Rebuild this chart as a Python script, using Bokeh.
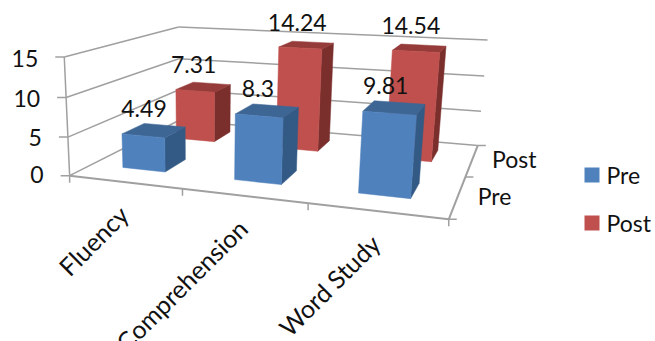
import numpy as np
from bokeh.plotting import figure
from bokeh.core.properties import value
from bokeh.embed import file_html
from bokeh.resources import INLINE

categories = ["Fluency", "Comprehension", "Word Study"]
series_names = ["Pre", "Post"]
pre_values = [4.49, 8.3, 9.81]
post_values = [7.31, 14.24, 14.54]
value_ticks = [0, 5, 10, 15]

FONT = "Lato"
AXIS = "#A0A0A0"
FACES = {
    "Pre": {"front": "#4F81BD", "top": "#3E6695", "side": "#335A85"},
    "Post": {"front": "#C0504D", "top": "#953B39", "side": "#7A2F2D"},
}
BAR_X = (0.29, 0.68)
BAR_Z = (0.34, 0.72)

# Camera fit: (category, depth, value) -> screen position of the chart's box.
anchors = [
    ((0, 0, 0), (71, 173)), ((1, 0, 0), (182, 188)), ((2, 0, 0), (307, 204)), ((3, 0, 0), (448, 221)),
    ((3, 1, 0), (466, 175)), ((3, 2, 0), (477, 143)), ((0, 2, 0), (177, 123)),
    ((0, 0, 5), (68, 135)), ((0, 0, 10), (65, 97)), ((0, 0, 15), (62, 58)),
    ((0, 2, 5), (178, 90)), ((0, 2, 10), (179, 57)), ((0, 2, 15), (180, 25)),
    ((3, 2, 5), (481, 110)), ((3, 2, 10), (484, 76)), ((3, 2, 15), (486, 41)),
]
rows = []
for (x, z, v), (u, w) in anchors:
    h = [x, z, v, 1]
    rows.append(h + [0, 0, 0, 0] + [-u * c for c in h])
    rows.append([0, 0, 0, 0] + h + [-w * c for c in h])
CAMERA = np.linalg.svd(np.array(rows, float))[2][-1].reshape(3, 4)


def project(x, z, v):
    q = CAMERA @ np.array([x, z, v, 1.0])
    return q[0] / q[2], q[1] / q[2]


p = figure(width=655, height=341, x_range=(0, 655), y_range=(341, 0),
           output_backend="svg", toolbar_location=None, min_border=0)
p.axis.visible = False
p.grid.visible = False
p.outline_line_color = None
p.background_fill_color = "white"


def line(a, b, width=1.5):
    ax, ay = a
    bx, by = b
    p.line([ax, bx], [ay, by], line_color=AXIS, line_width=width)


# Box frame: walls, floor and tick marks
for v in value_ticks:
    a, b, c = project(0, 0, v), project(0, 2, v), project(3, 2, v)
    line(a, b)
    line(b, c)
    line(a, (a[0] - 9, a[1]))
line(project(0, 0, 0), project(0, 0, 15))
line(project(0, 0, 0), project(3, 0, 0), 2)
line(project(3, 0, 0), project(3, 2, 0), 2)
for i in range(4):
    a = project(i, 0, 0)
    line(a, (a[0], a[1] + 7))
for k in range(3):
    a = project(3, k, 0)
    line(a, (a[0] + 8, a[1]))

# Bars, far row first so that nearer ones cover them
for depth, name, vals in ((1, "Post", post_values), (0, "Pre", pre_values)):
    for i, val in enumerate(vals):
        x0, x1 = i + BAR_X[0], i + BAR_X[1]
        z0, z1 = depth + BAR_Z[0], depth + BAR_Z[1]
        quads = {
            "side": [(x1, z0, 0), (x1, z1, 0), (x1, z1, val), (x1, z0, val)],
            "top": [(x0, z0, val), (x1, z0, val), (x1, z1, val), (x0, z1, val)],
            "front": [(x0, z0, 0), (x1, z0, 0), (x1, z0, val), (x0, z0, val)],
        }
        for face, pts in quads.items():
            xy = [project(*q) for q in pts]
            p.patch([c[0] for c in xy], [c[1] for c in xy],
                    fill_color=FACES[name][face], line_color=FACES[name][face], line_width=0.5)


def label(x, y, s, size, align="center", angle=0):
    p.text([x], [y], text=[s], text_font=value(FONT), text_font_size=size, text_color="#111111",
           text_align=align, text_baseline="middle", angle=angle)


# Value labels sit just above each bar's top face
for depth, vals in ((1, post_values), (0, pre_values)):
    for i, val in enumerate(vals):
        x, y = project(i + 0.5, depth + 0.5, val)
        label(x - 10, y - 23, f"{val:g}", "23px")

# Axis numbers are spaced a little tighter than the ticks they belong to
for v in value_ticks:
    x, y = project(0, 0, v)
    label(x - 26, y - 1 + v * 0.2, str(v), "23px", "right")

for i, cat in enumerate(categories):
    x, y = project(i + 0.5, 0, 0)
    label(x - 1, y + 28, cat, "25px", "right", np.pi / 4)

for k, name in enumerate(series_names):
    x, y = project(3, k + 0.5, 0)
    label(x + 20, y - 1, name, "23px", "left")

# Legend
for name, top in zip(series_names, (167, 215)):
    p.quad(left=[584], right=[599], top=[top], bottom=[top + 15],
           fill_color=FACES[name]["front"], line_color=None)
    label(606, top + 7.5, name, "23px", "left")

open("out.html", "w").write(file_html(p, INLINE))
